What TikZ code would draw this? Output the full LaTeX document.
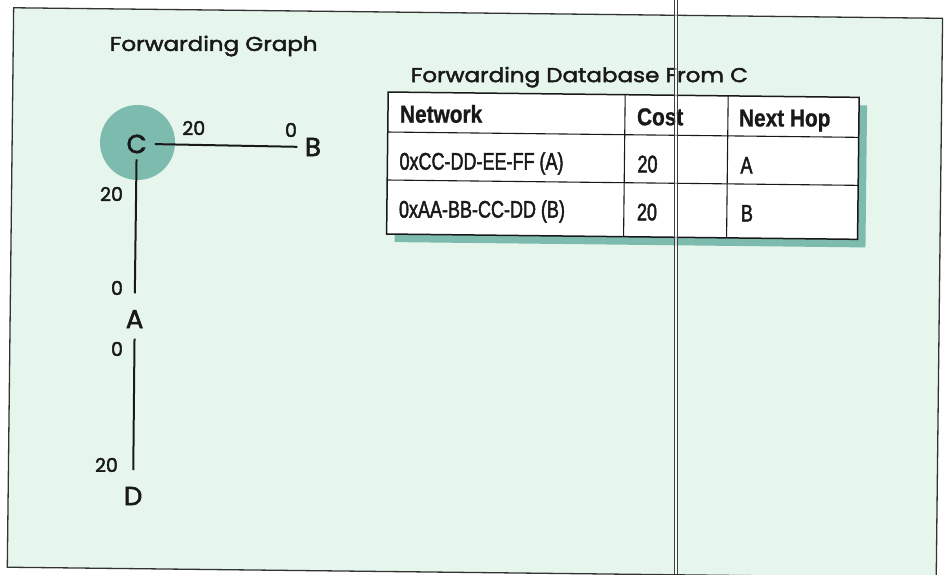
\documentclass[tikz,border=0pt]{standalone}
\usepackage{fontspec}
\setmainfont{Poppins}
\newfontfamily\titlefont[FakeStretch=1.15,FakeBold=2.2]{Poppins}
\newfontfamily\graphfont[FakeBold=2.2]{Poppins}
\newfontfamily\tabfont[FakeStretch=0.75,FakeBold=1.8]{Liberation Sans}
\newfontfamily\tabhead[FakeStretch=0.85,FakeBold=1.0]{Liberation Sans Bold}
\definecolor{panel}{RGB}{231,246,237}
\definecolor{hubteal}{RGB}{125,187,175}
\definecolor{ink}{RGB}{25,25,25}
\begin{document}
\begin{tikzpicture}[x=1pt,y=-1pt,
  ttl/.style={font=\titlefont\fontsize{20}{22}\selectfont, inner sep=0pt, text=ink},
  lbl/.style={font=\graphfont\fontsize{19}{20}\selectfont, inner sep=0pt, text=ink},
  vtx/.style={font=\graphfont\fontsize{26}{28}\selectfont, inner sep=0pt, text=ink},
  cellh/.style={font=\tabhead\fontsize{24.5}{26}\selectfont, anchor=base west, inner sep=0pt, text=ink},
  cell/.style={font=\tabfont\fontsize{24}{26}\selectfont, anchor=base west, inner sep=0pt, text=ink},
  link/.style={draw=ink, line width=2pt},
  grid/.style={draw=ink, line width=1.1pt}]
\useasboundingbox (0,0) rectangle (949,574);
\fill[white] (0,0) rectangle (949,574);
\begin{scope}[rotate around={-0.65:(475,287)}]
  % panel
  \draw[fill=panel, draw=black!80, line width=1.3pt] (10.5,13) rectangle (939.5,572.5);
  % titles
  \node[ttl] (gtitle) at (211,49) {Forwarding Graph};
  \node[ttl] (dtitle) at (577,76) {Forwarding Database From C};
  % table with drop shadow
  \fill[hubteal] (394,101) rectangle (865,243);
  \draw[fill=white, draw=ink, line width=1.5pt] (386,93) rectangle (857,235);
  \draw[grid] (386,133) -- (857,133);
  \draw[grid] (386,181) -- (857,181);
  \draw[grid] (623,93) -- (623,235);
  \draw[grid] (726,93) -- (726,235);
  \node[cellh] (hnet)  at (398,123.5) {Network};
  \node[cellh] (hcost) at (635,123.5) {Cost};
  \node[cellh] (hhop)  at (737,123.5) {Next Hop};
  \node[cell] (n1) at (398,170.5) {0xCC-DD-EE-FF (A)};
  \node[cell] (c1) at (636,170.5) {20};
  \node[cell] (h1) at (739,170.5) {A};
  \node[cell] (n2) at (398,218.5) {0xAA-BB-CC-DD (B)};
  \node[cell] (c2) at (636,218.5) {20};
  \node[cell] (h2) at (740,218.5) {B};
  % forwarding graph
  \fill[hubteal] (135.9,146.3) circle (37.5pt);
  \node[vtx] (C) at (135,147.8) {C};
  \node[vtx] (B) at (311.4,148.8) {B};
  \node[vtx] (A) at (135,322.9) {A};
  \node[vtx] (D) at (135.5,499.9) {D};
  \draw[link, shorten <=8pt, shorten >=7.5pt] (C.east) -- (B.west);
  \draw[link, shorten <=6pt, shorten >=16.5pt] (C.south) -- (A.north);
  \draw[link, shorten <=10.5pt, shorten >=16.5pt] (A.south) -- (D.north);
  \node[lbl] (cbC) at (192,131.2) {20};
  \node[lbl] (cbB) at (289.2,132.1) {0};
  \node[lbl] (caC) at (110.5,198.1) {20};
  \node[lbl] (caA) at (117,292) {0};
  \node[lbl] (adA) at (117.7,353) {0};
  \node[lbl] (adD) at (108.5,469.1) {20};
\end{scope}
% double fold line running down the sheet
\fill[white, opacity=0.6] (674,0) rectangle (677.5,574);
\draw[black!75, line width=0.9pt] (674,0) -- (674,574);
\draw[black!75, line width=0.9pt] (677.5,0) -- (677.5,574);
\end{tikzpicture}
\end{document}
